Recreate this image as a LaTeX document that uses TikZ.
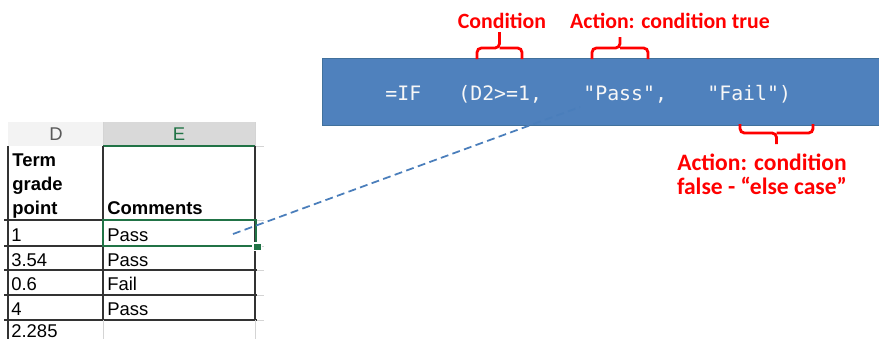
\documentclass[tikz,border=0pt]{standalone}
\usepackage{fontspec}
\setmainfont{Carlito}
\newfontfamily\cellfont{Liberation Sans}
\newfontfamily\codefont{DejaVu Sans Mono}
\usetikzlibrary{positioning, calc}
\definecolor{boxblue}{HTML}{4F81BD}
\definecolor{boxedge}{HTML}{41719C}
\definecolor{codetext}{HTML}{F7F7F7}
\definecolor{notered}{HTML}{FF0000}
\definecolor{selgreen}{HTML}{217346}
\definecolor{gridgray}{HTML}{D4D4D4}
\definecolor{hdgray}{HTML}{F3F3F3}
\definecolor{hdsel}{HTML}{D9D9D9}
\definecolor{hdtext}{HTML}{595959}
\definecolor{linkblue}{HTML}{4A7EBB}

% brace: x1, x2, bar y, leg end y, tip y
\newcommand{\ifbrace}[5]{%
  \draw[redbrace] (#1,#4) |- ({(#1+#2)/2},#3) -- ({(#1+#2)/2},#5);
  \draw[redbrace] (#2,#4) |- ({(#1+#2)/2},#3);
}

\begin{document}
\begin{tikzpicture}[x=0.02cm, y=-0.02cm,
  redbrace/.style={notered, line width=1.6pt, rounded corners=2.5pt},
  redlbl/.style={text=notered, font=\fontsize{12.4}{13.6}\selectfont\bfseries, align=center},
  code/.style={text=codetext, font=\codefont\fontsize{11.3}{13}\selectfont, anchor=base west, inner sep=0pt},
  cell/.style={font=\cellfont\fontsize{10.5}{12.5}\selectfont, anchor=base west, inner sep=0pt},
  grid/.style={black!80, line width=0.8pt}]

\useasboundingbox (0,0) rectangle (879,339);

% =========== Spreadsheet ===========
% column headers
\fill[hdgray] (8,122) rectangle (103,146);
\fill[hdsel] (103,122) rectangle (255,146);
\draw[gridgray, line width=0.5pt] (103,122) -- (103,146) (255,122) -- (255,146) (255,146) -- (264,146);
\draw[selgreen, line width=1.2pt] (103,146) -- (255,146);
\node[text=hdtext, font=\cellfont\fontsize{10.5}{12}\selectfont] (hdD) at (56,134) {D};
\node[text=selgreen, font=\cellfont\fontsize{10.5}{12}\selectfont] (hdE) at (179,134) {E};

% grid lines
\foreach \y in {220,246,270,295,320}
  \draw[grid] (4,\y) -- (257,\y);
\foreach \y in {220,246,270,295,320}
  \draw[gridgray, line width=0.5pt] (257,\y) -- (264,\y);
\draw[grid] (8,146) -- (8,339);
\draw[grid] (103,146) -- (103,320);
\draw[grid] (255,146) -- (255,320);
\draw[gridgray, line width=0.5pt] (103,320) -- (103,339) (255,320) -- (255,339);

% header cells
\node[cell, font=\cellfont\fontsize{10.5}{12.5}\selectfont\bfseries] (termhd) at (12,166) {Term};
\node[cell, font=\cellfont\fontsize{10.5}{12.5}\selectfont\bfseries] (gradehd) at (12,190) {grade};
\node[cell, font=\cellfont\fontsize{10.5}{12.5}\selectfont\bfseries] (pointhd) at (12,214) {point};
\node[cell, font=\cellfont\fontsize{10.5}{12.5}\selectfont\bfseries] (commhd) at (107,214) {Comments};

% data rows
\foreach \v/\c/\y [count=\i] in {1/Pass/241, 3.54/Pass/266, 0.6/Fail/290, 4/Pass/315} {
  \node[cell] (val\i) at (11,\y) {\v};
  \node[cell] (com\i) at (107,\y) {\c};
}
\node[cell] (val5) at (11,337) {2.285};

% selected cell
\draw[selgreen, line width=1.3pt] (103,220) rectangle (256,246);
\fill[white] (252,242) rectangle (262,251);
\fill[selgreen] (253.5,243.5) rectangle (260.5,250);
\coordinate (cellpt) at (233,234);

% =========== Formula box ===========
\node[fill=boxblue, draw=boxedge, line width=0.8pt, inner sep=0pt,
      minimum width=11.3cm, minimum height=1.34cm, anchor=north west] (formula) at (322,58) {};
\node[code] (fif) at (385,100) {=IF};
\node[code] (fcond) at (458,100) {(D2>=1,};
\node[code] (ftrue) at (583,100) {"Pass",};
\node[code] (ffalse) at (707,100) {"Fail")};
\coordinate (fpt) at (580,107);

% link from cell to formula
\draw[linkblue, line width=1pt, dash pattern=on 4.5pt off 2.5pt] (cellpt) -- (fpt);

% =========== Braces and labels ===========
\ifbrace{477}{522}{48}{59}{32}
\ifbrace{592}{648}{48}{59}{37}
\ifbrace{740}{813}{133}{124}{144}

\node[redlbl] (condlbl) at (502,21) {Condition};
\node[redlbl] (truelbl) at (670,21) {Action: condition true};
\node[redlbl, font=\fontsize{13.4}{13.6}\selectfont\bfseries] (falselbl) at (762,174) {Action: condition\\false - “else case”};

\end{tikzpicture}
\end{document}
